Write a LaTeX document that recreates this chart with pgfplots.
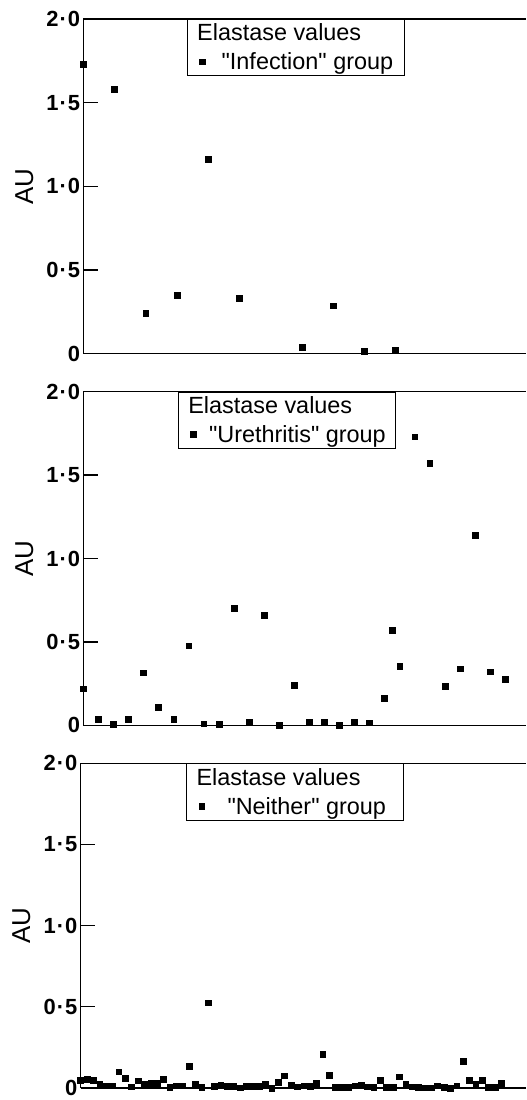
\documentclass[border=0pt]{standalone}
\usepackage{pgfplots}
\pgfplotsset{compat=1.18}
\usepackage{fontspec}
\setmainfont{Liberation Sans}[Ligatures=TeXOff]
\newcommand{\tkf}{\fontsize{22}{22}\selectfont\bfseries}
\newcommand{\md}{\hspace{1pt}·\hspace{1pt}}
\begin{document}
\begin{tikzpicture}
\pgfplotsset{
  elast/.style={
    scale only axis,
    ymin=0, ymax=2,
    xmin=0,
    axis x line=box,
    axis y line=left,
    axis line style={line width=1.3pt, -},
    x axis line style={-},
    y axis line style={-},
    xtick=\empty,
    ytick={0,0.5,1,1.5,2},
    yticklabels={{\tkf 0},{\tkf 0\md 5},{\tkf 1\md 0},{\tkf 1\md 5},{\tkf 2\md 0}},
    /pgf/number format/assume math mode=true,
    yticklabel style={inner xsep=3pt, inner ysep=0pt},
    tick align=inside,
    major tick length=15pt,
    major tick style={line width=1.2pt, black},
    ytick pos=left,
    ylabel={\fontsize{26}{28}\selectfont AU},
    every axis y label/.style={at={(axis description cs:-0.133,0.5)}, rotate=90, anchor=center},
    clip=false,
    legend cell align=left,
    legend style={draw=black, line width=0.9pt, anchor=north west, inner xsep=12.6pt, inner ysep=4.5pt,
      font=\fontsize{23.5}{28}\selectfont, row sep=10.5pt, column sep=0pt, nodes={inner sep=0pt}},
    legend image code/.code={\draw[black] plot[mark=square*, mark size=2.9pt, only marks] coordinates {(0pt,0pt)};
      \path[draw=none, fill=none] (0pt,0pt) (15.4pt,0pt);},
  },
  dot/.style={only marks, mark=square*, mark size=2.9pt, black},
}

% ---------- Infection group ----------
\begin{axis}[elast, at={(83.5pt,745pt)}, anchor=south west,
  width=444.5pt, height=336pt, xmax=14.18,
  legend style={at={(axis description cs:0.234,1)}}]
\addlegendimage{empty legend}
\addlegendentry{\makebox[174.2pt][l]{\hspace*{-20.9pt}Elastase values}}
\addplot[dot] coordinates {
 (0,1.73) (1,1.58) (2,0.244) (3,0.35) (4,1.16) (5,0.33)
 (7,0.037) (8,0.287) (9,0.013) (10,0.019)
};
\addlegendentry{\makebox[174.2pt][l]{\hspace*{3.6pt}"Infection" group}}
\end{axis}

% ---------- Urethritis group ----------
\begin{axis}[elast, at={(83.5pt,372pt)}, anchor=south west,
  width=444.5pt, height=335pt, xmax=29.39,
  legend style={at={(axis description cs:0.2137,1)}}]
\addlegendimage{empty legend}
\addlegendentry{\makebox[174.2pt][l]{\hspace*{-20.9pt}Elastase values}}
\addplot[dot] coordinates {
 (0,0.22) (1,0.036) (2,0.008) (3,0.038) (4,0.316) (5,0.107) (6,0.038)
 (7,0.477) (8,0.01) (9,0.005) (10,0.70) (11,0.018) (12,0.66) (13,0.002)
 (14,0.24) (15,0.02) (16,0.02) (17,0.0) (18,0.02) (19,0.016) (20,0.163)
 (20.5,0.57) (21,0.356) (22,1.73) (23,1.57) (24,0.233) (25,0.34)
 (26,1.14) (27,0.322) (28,0.275)
};
\addlegendentry{\makebox[174.2pt][l]{"Urethritis" group}}
\end{axis}

% ---------- Neither group ----------
\begin{axis}[elast, at={(80.8pt,8pt)}, anchor=south west,
  width=447.2pt, height=326pt, xmax=69.9,
  legend style={at={(axis description cs:0.237,1)}}]
\addlegendimage{empty legend}
\addlegendentry{\makebox[174.2pt][l]{\hspace*{-20.9pt}Elastase values}}
\addplot[dot] coordinates {
 (0,0.05) (1,0.055) (2,0.05) (3,0.024) (4,0.014) (5,0.014) (6,0.10)
 (7,0.059) (8,0.008) (9,0.045) (10,0.022) (11,0.028) (12,0.03) (13,0.055)
 (14,0.005) (15,0.014) (16,0.014) (17,0.135) (18,0.024) (19,0.005)
 (20,0.526) (21,0.012) (22,0.02) (23,0.01) (24,0.01) (25,0.002) (26,0.01)
 (27,0.01) (28,0.012) (29,0.024) (30,0.0) (31,0.034) (32,0.076) (33,0.018)
 (34,0.008) (35,0.015) (36,0.01) (37,0.028) (38,0.208) (39,0.08) (40,0.003)
 (41,0.006) (42,0.004) (43,0.014) (44,0.02) (45,0.008) (46,0.007) (47,0.05)
 (48,0.004) (49,0.004) (50,0.07) (51,0.026) (52,0.008) (53,0.003) (54,0.002)
 (55,0.002) (56,0.014) (57,0.006) (58,0.0) (59,0.014) (60,0.167) (61,0.047)
 (62,0.026) (63,0.046) (64,0.003) (65,0.004) (66,0.031)
};
\addlegendentry{\makebox[174.2pt][l]{\hspace*{10.2pt}"Neither" group}}
\end{axis}

\pgfresetboundingbox
\path[use as bounding box] (0pt,-4pt) rectangle (528pt,1100pt);
\end{tikzpicture}
\end{document}
